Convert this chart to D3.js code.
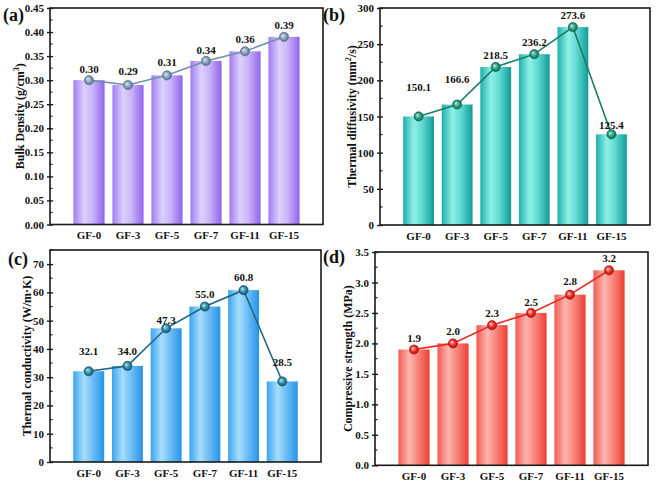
<!DOCTYPE html>
<html><head><meta charset="utf-8">
<script src="https://cdn.jsdelivr.net/npm/d3@7"></script>
<style>html,body{margin:0;padding:0;background:#fff;}svg{display:block;}</style>
</head><body>
<svg id="chart" width="661" height="487"></svg>
<script>
const categories = ["GF-0","GF-3","GF-5","GF-7","GF-11","GF-15"];
const density = [0.30,0.29,0.31,0.34,0.36,0.39];
const diffusivity = [150.1,166.6,218.5,236.2,273.6,125.4];
const conductivity = [32.1,34.0,47.3,55.0,60.8,28.5];
const strength = [1.9,2.0,2.3,2.5,2.8,3.2];
const densityTicks = [0,0.05,0.10,0.15,0.20,0.25,0.30,0.35,0.40,0.45];
const diffusivityTicks = [0,50,100,150,200,250,300];
const conductivityTicks = [0,10,20,30,40,50,60,70];
const strengthTicks = [0,0.5,1.0,1.5,2.0,2.5,3.0,3.5];

const svg = d3.select("#chart");
const defs = svg.append("defs");
const FONT = "'Liberation Serif','Times New Roman',serif";

const panels = [
  {id:"a", label:"(a)", lx:3, ly:21, data:density, ticks:densityTicks, dom:[0,0.45], fmt:".2f", tfmt:".2f",
   box:{L:50,R:323,T:8,B:224.5}, titleX:20, lift:[11,14,13.5,11,12,12],
   title:["Bulk Density (g/cm","3",")"],
   bar:["#a27cf1","#ddd0fc","#cbb6f9","#9163eb"], line:"#6f8fb0",
   mk:["#dfe7f0","#8aa1bb","#4d6784"]},
  {id:"b", label:"(b)", lx:323, ly:21, data:diffusivity, ticks:diffusivityTicks, dom:[0,300], fmt:".1f", tfmt:"d",
   box:{L:380,R:650,T:8,B:225}, titleX:352, lift:[29,25,12,12.5,12,9.5],
   title:["Thermal diffusivity (mm","2","/s)"],
   bar:["#1fb0ab","#8ff0e7","#62dcd3","#139b98"], line:"#1b7c68",
   mk:["#b8efdf","#2b9c84","#0e5c4c"]},
  {id:"c", label:"(c)", lx:8, ly:265, data:conductivity, ticks:conductivityTicks, dom:[0,75], fmt:".1f", tfmt:"d",
   box:{L:50,R:321,T:250,B:462}, titleX:27, lift:[20,15,8,12.5,13,19],
   title:["Thermal conductivity (W/m·K)","",""],
   bar:["#3aa5ef","#a8ddfc","#72c1f6","#2693e6"], line:"#1f6784",
   mk:["#c0e8ef","#2f8ca6","#114a64"]},
  {id:"d", label:"(d)", lx:323, ly:263, data:strength, ticks:strengthTicks, dom:[0,3.5], fmt:".1f", tfmt:".1f",
   box:{L:375,R:648,T:252,B:465.3}, titleX:348, lift:[12,12,12,11,14,12],
   title:["Compressive strength (MPa)","",""],
   bar:["#f25b51","#fcb6ae","#f88a80","#ee3e35"], line:"#e8261e",
   mk:["#ffd6d2","#ee2c23","#a80f0f"]}
];

panels.forEach(p => {
  const b = p.box;
  const lg = defs.append("linearGradient").attr("id","bar"+p.id).attr("x1","0").attr("x2","1").attr("y1","0").attr("y2","0");
  [[0,p.bar[0]],[0.35,p.bar[1]],[0.6,p.bar[2]],[1,p.bar[3]]].forEach(s=>lg.append("stop").attr("offset",s[0]).attr("stop-color",s[1]));
  const rg = defs.append("radialGradient").attr("id","mk"+p.id).attr("cx","0.5").attr("cy","0.5").attr("r","0.55").attr("fx","0.35").attr("fy","0.35");
  [[0,p.mk[0]],[0.55,p.mk[1]],[1,p.mk[2]]].forEach(s=>rg.append("stop").attr("offset",s[0]).attr("stop-color",s[1]));

  const x = d3.scaleBand().domain(categories).range([b.L,b.R]).paddingInner(0.2).paddingOuter(0.6);
  const y = d3.scaleLinear().domain(p.dom).range([b.B,b.T]);
  const g = svg.append("g");
  const cx = (d,i)=>x(categories[i])+x.bandwidth()/2;

  g.selectAll("rect.bar").data(p.data).enter().append("rect")
    .attr("x",(d,i)=>x(categories[i])).attr("width",x.bandwidth())
    .attr("y",d=>y(d)).attr("height",d=>y(0)-y(d))
    .attr("fill","url(#bar"+p.id+")");

  const line = d3.line().x(cx).y(d=>y(d));
  g.append("path").datum(p.data).attr("d",line).attr("fill","none").attr("stroke",p.line).attr("stroke-width",1.6);
  g.selectAll("circle.mk").data(p.data).enter().append("circle")
    .attr("cx",cx).attr("cy",d=>y(d)).attr("r",4.6)
    .attr("fill","url(#mk"+p.id+")").attr("stroke",p.mk[2]).attr("stroke-width",0.6);

  g.selectAll("text.val").data(p.data).enter().append("text")
    .attr("x",cx).attr("y",(d,i)=>y(d)-p.lift[i]).attr("dominant-baseline","central")
    .attr("text-anchor","middle").attr("font-family",FONT).attr("font-weight","bold").attr("font-size",11)
    .attr("fill","#111").text(d=>d3.format(p.fmt)(d));

  g.append("rect").attr("x",b.L).attr("y",b.T).attr("width",b.R-b.L).attr("height",b.B-b.T)
    .attr("fill","none").attr("stroke","#1a1a1a").attr("stroke-width",1.6);

  const yAxis = d3.axisLeft(y).tickValues(p.ticks).tickSize(3).tickPadding(3).tickFormat(d3.format(p.tfmt));
  const ga = g.append("g").attr("transform",`translate(${b.L},0)`).call(yAxis);
  ga.select(".domain").remove();
  ga.selectAll(".tick line").attr("stroke","#1a1a1a").attr("stroke-width",1.4).attr("x2",-3).attr("x1",3);
  ga.selectAll(".tick text").attr("font-family",FONT).attr("font-weight","bold").attr("font-size",11).attr("fill","#111");
  const minors = [];
  for (let i=0;i<p.ticks.length;i++){
    const a = p.ticks[i], n = (i+1<p.ticks.length)? p.ticks[i+1] : p.ticks[i] + (p.ticks[1]-p.ticks[0]);
    const m = (a+n)/2;
    if (m <= p.dom[1]) minors.push(m);
  }
  g.selectAll("line.minor").data(minors).enter().append("line")
    .attr("x1",b.L).attr("x2",b.L+2.5).attr("y1",d=>y(d)).attr("y2",d=>y(d))
    .attr("stroke","#1a1a1a").attr("stroke-width",1.2);

  const xAxis = d3.axisBottom(x).tickSize(0).tickPadding(7);
  const gx = g.append("g").attr("transform",`translate(0,${b.B})`).call(xAxis);
  gx.select(".domain").remove();
  gx.selectAll(".tick text").attr("font-family",FONT).attr("font-weight","bold").attr("font-size",11).attr("fill","#111");

  const cy = (b.T+b.B)/2;
  const t = g.append("text").attr("transform",`translate(${p.titleX},${cy}) rotate(-90)`)
    .attr("text-anchor","middle").attr("dominant-baseline","central")
    .attr("font-family",FONT).attr("font-weight","bold").attr("font-size",12).attr("fill","#111");
  t.append("tspan").text(p.title[0]);
  if (p.title[1]) {
    t.append("tspan").attr("dy",-4).attr("font-size",8).text(p.title[1]);
    t.append("tspan").attr("dy",4).text(p.title[2]);
  }

  svg.append("text").attr("x",p.lx).attr("y",p.ly).attr("font-family",FONT).attr("font-weight","bold")
    .attr("font-size",18).attr("fill","#111").text(p.label);
});
</script>
</body></html>
